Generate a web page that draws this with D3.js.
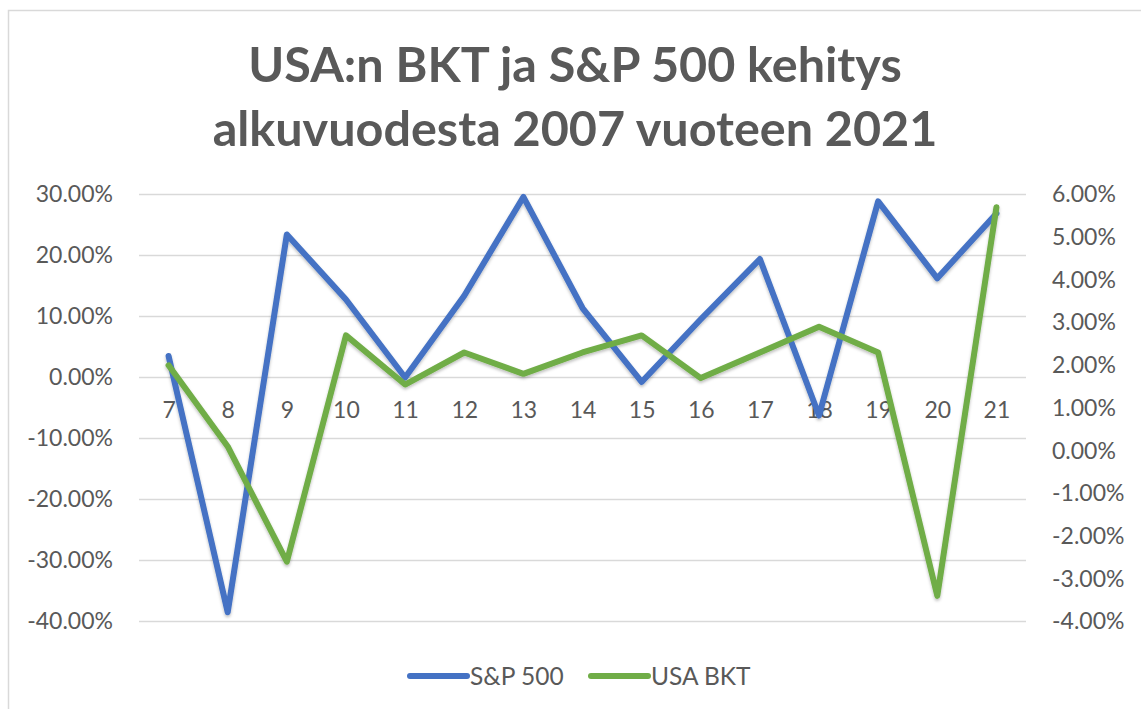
<!DOCTYPE html>
<html>
<head>
<meta charset="utf-8">
<script src="https://cdn.jsdelivr.net/npm/d3@7"></script>
<style>
  body { margin: 0; background: #fff; }
  text { font-family: Lato, "Open Sans", sans-serif; }
</style>
</head>
<body>
<div id="vis"></div>
<script>
// ---- Data (yearly change, %) ----
const years = ["7", "8", "9", "10", "11", "12", "13", "14", "15", "16", "17", "18", "19", "20", "21"];
const sp500 = [3.53, -38.49, 23.45, 12.78, 0.0, 13.41, 29.6, 11.39, -0.73, 9.54, 19.42, -6.24, 28.88, 16.26, 26.89];
const gdp = [2.0, 0.1, -2.6, 2.7, 1.55, 2.3, 1.8, 2.3, 2.7, 1.7, 2.3, 2.9, 2.3, -3.4, 5.7];
const leftTicks = [-40, -30, -20, -10, 0, 10, 20, 30];
const rightTicks = [-4, -3, -2, -1, 0, 1, 2, 3, 4, 5, 6];
const titleLines = ["USA:n BKT ja S&P 500 kehitys", "alkuvuodesta 2007 vuoteen 2021"];
const seriesNames = ["S&P 500", "USA BKT"];

const W = 1141;
const H = 709;
const plot = { left: 139, right: 1026, top: 194.5, bottom: 621.5 };

const BLUE = "#4472C4";
const GREEN = "#70AD47";
const TEXT = "#595959";
const GRID = "#d9d9d9";

const svg = d3.select("#vis")
  .append("svg")
  .attr("width", W)
  .attr("height", H)
  .style("display", "block");

// soft shadow like the spreadsheet lines
const defs = svg.append("defs");
defs.append("filter")
  .attr("id", "shadow")
  .attr("x", "-10%").attr("y", "-10%")
  .attr("width", "120%").attr("height", "120%")
  .append("feDropShadow")
  .attr("dx", 0).attr("dy", 2)
  .attr("stdDeviation", 1.8)
  .attr("flood-color", "#000")
  .attr("flood-opacity", 0.25);

// chart frame
svg.append("rect")
  .attr("x", 8.5).attr("y", 10.5)
  .attr("width", W).attr("height", H)
  .attr("fill", "#fff")
  .attr("stroke", GRID)
  .attr("stroke-width", 1.5);

// ---- Title ----
svg.append("g")
  .selectAll("text")
  .data(titleLines)
  .join("text")
  .attr("x", 575)
  .attr("y", (d, i) => 82 + i * 64)
  .attr("text-anchor", "middle")
  .attr("fill", TEXT)
  .attr("font-weight", 700)
  .attr("font-size", 48.5)
  .text(d => d);

// ---- Scales ----
const x = d3.scalePoint()
  .domain(years)
  .range([plot.left, plot.right])
  .padding(0.5);

const yLeft = d3.scaleLinear()
  .domain([-40, 30])
  .range([plot.bottom, plot.top]);

const yRight = d3.scaleLinear()
  .domain([-4, 6])
  .range([plot.bottom, plot.top]);

// plain hyphen for negatives, like the original
const pct = d => d3.format(".2f")(d).replace("\u2212", "-") + "%";

// gridlines (left axis)
svg.append("g")
  .selectAll("line")
  .data(leftTicks)
  .join("line")
  .attr("x1", plot.left)
  .attr("x2", plot.right)
  .attr("y1", d => yLeft(d))
  .attr("y2", d => yLeft(d))
  .attr("stroke", GRID)
  .attr("stroke-width", 1.5);

// left axis
const axL = svg.append("g")
  .attr("transform", `translate(${plot.left - 26},0)`)
  .call(d3.axisLeft(yLeft).tickValues(leftTicks).tickFormat(pct).tickSize(0).tickPadding(0));
axL.select(".domain").remove();
axL.selectAll("text")
  .attr("fill", TEXT)
  .attr("font-size", 23)
  .style("font-family", "Lato, sans-serif");

// right axis
const axR = svg.append("g")
  .attr("transform", `translate(${plot.right + 26},0)`)
  .call(d3.axisRight(yRight).tickValues(rightTicks).tickFormat(pct).tickSize(0).tickPadding(0));
axR.select(".domain").remove();
axR.selectAll("text")
  .attr("fill", TEXT)
  .attr("font-size", 23)
  .style("font-family", "Lato, sans-serif");

// category labels sit under the zero line
const axX = svg.append("g")
  .attr("transform", `translate(0,${yLeft(0)})`)
  .call(d3.axisBottom(x).tickSize(0).tickPadding(24));
axX.select(".domain").remove();
axX.selectAll("text")
  .attr("fill", TEXT)
  .attr("font-size", 23)
  .style("font-family", "Lato, sans-serif");

// ---- Lines ----
const lineL = d3.line()
  .x((d, i) => x(years[i]))
  .y(d => yLeft(d));

const lineR = d3.line()
  .x((d, i) => x(years[i]))
  .y(d => yRight(d));

const lines = svg.append("g").attr("filter", "url(#shadow)");

lines.append("path")
  .datum(sp500)
  .attr("d", lineL)
  .attr("fill", "none")
  .attr("stroke", BLUE)
  .attr("stroke-width", 6)
  .attr("stroke-linejoin", "round")
  .attr("stroke-linecap", "round");

lines.append("path")
  .datum(gdp)
  .attr("d", lineR)
  .attr("fill", "none")
  .attr("stroke", GREEN)
  .attr("stroke-width", 6)
  .attr("stroke-linejoin", "round")
  .attr("stroke-linecap", "round");

// ---- Legend ----
const legendItems = [
  { name: seriesNames[0], color: BLUE, x: 410 },
  { name: seriesNames[1], color: GREEN, x: 591 }
];

const legend = svg.append("g")
  .selectAll("g")
  .data(legendItems)
  .join("g")
  .attr("transform", d => `translate(${d.x},676)`);

legend.append("line")
  .attr("x1", 0).attr("x2", 57)
  .attr("stroke", d => d.color)
  .attr("stroke-width", 6)
  .attr("stroke-linecap", "round");

legend.append("text")
  .attr("x", 60)
  .attr("dy", "0.35em")
  .attr("fill", TEXT)
  .attr("font-size", 24.5)
  .text(d => d.name);
</script>
</body>
</html>
